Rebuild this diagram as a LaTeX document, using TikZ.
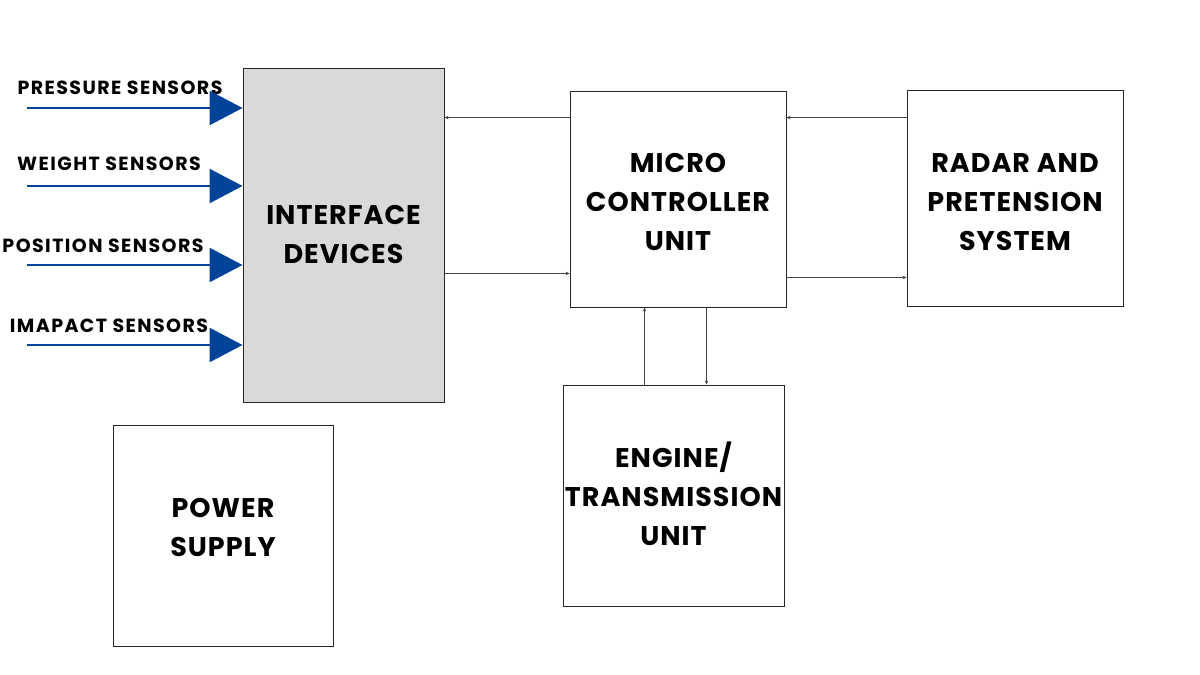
\documentclass[tikz,border=0pt]{standalone}
\usepackage{fontspec}
\setmainfont{Poppins}
\newfontfamily\bigfont{Poppins}[LetterSpace=3.8]
\newfontfamily\smallfont{Poppins}[LetterSpace=7.5]
\usetikzlibrary{arrows.meta}
\definecolor{boxgray}{HTML}{D9D9D9}
\definecolor{sensorblue}{HTML}{00449A}
\definecolor{connGray}{HTML}{444444}
\tikzset{
  blk/.style={draw=black!85, line width=0.9pt, inner sep=0pt, align=center,
    font=\bigfont\bfseries\fontsize{27}{39}\selectfont},
  txt/.style={inner sep=0pt, align=center,
    font=\bigfont\bfseries\fontsize{27}{39}\selectfont},
  conn/.style={draw=connGray, line width=0.9pt, -{Stealth[length=4pt,width=3.5pt]}},
  sensor/.style={draw=sensorblue, line width=2.6pt,
    -{Triangle[length=33pt,width=34pt]}, shorten >=0pt},
  slabel/.style={font=\smallfont\bfseries\fontsize{19}{22}\selectfont, inner sep=0pt}
}
\begin{document}
\begin{tikzpicture}[x=1pt,y=-1pt]
\useasboundingbox[fill=white] (0,0) rectangle (1200,675);
% blocks
\node[blk, fill=boxgray, minimum width=201pt, minimum height=334pt] (iface) at (343.5,235) {INTERFACE\\DEVICES};
\node[blk, minimum width=216pt, minimum height=216pt] (micro) at (678,199) {};
\node[txt] (microtxt) at (678,202) {MICRO\\CONTROLLER\\UNIT};
\node[blk, minimum width=216pt, minimum height=216pt] (radar) at (1015,198) {};
\node[txt] (radartxt) at (1015,202) {RADAR AND\\PRETENSION\\SYSTEM};
\node[blk, minimum width=221pt, minimum height=221pt] (engine) at (673.5,495.5) {};
\node[txt] (enginetxt) at (673.5,494) {ENGINE/\\TRANSMISSION\\UNIT};
\node[blk, minimum width=220pt, minimum height=221pt] (power) at (223,535.5) {};
\node[txt] (powertxt) at (223,527) {POWER\\SUPPLY};
% sensor labels
\node[slabel] (l1) at (120,88) {PRESSURE SENSORS};
\node[slabel] (l2) at (109,164) {WEIGHT SENSORS};
\node[slabel] (l3) at (103,246) {POSITION SENSORS};
\node[slabel] (l4) at (109,326) {IMAPACT SENSORS};
% sensor arrows
\coordinate (s1) at (27,108);
\coordinate (s2) at (27,186);
\coordinate (s3) at (27,265);
\coordinate (s4) at (27,345);
\draw[sensor] (s1) -- (s1 -| iface.west);
\draw[sensor] (s2) -- (s2 -| iface.west);
\draw[sensor] (s3) -- (s3 -| iface.west);
\draw[sensor] (s4) -- (s4 -| iface.west);
% connectors
\draw[conn] ([yshift=-27pt]micro.north west) -- ([yshift=-27pt]micro.north west -| iface.east);
\draw[conn] ([yshift=34pt]micro.south west -| iface.east) -- ([yshift=34pt]micro.south west);
\draw[conn] ([yshift=-28pt]radar.north west) -- ([yshift=-28pt]radar.north west -| micro.east);
\draw[conn] ([yshift=30pt]micro.south east) -- ([yshift=30pt]micro.south east -| radar.west);
\draw[conn] ([xshift=82pt]engine.north west) -- ([xshift=82pt]engine.north west |- micro.south);
\draw[conn] ([xshift=137pt]micro.south west) -- ([xshift=137pt]micro.south west |- engine.north);
\end{tikzpicture}
\end{document}
